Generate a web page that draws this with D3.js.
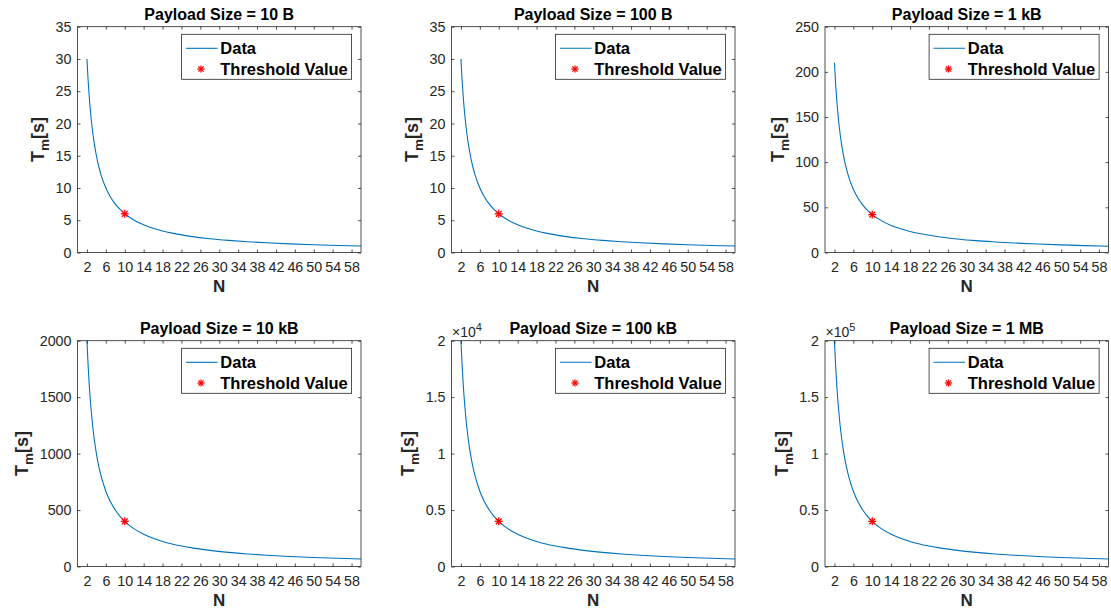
<!DOCTYPE html>
<html>
<head>
<meta charset="utf-8">
<script src="https://cdn.jsdelivr.net/npm/d3@7"></script>
<style>
  body { margin: 0; background: #fff; }
  svg { display: block; font-family: "Liberation Sans", Arial, Helvetica, sans-serif; }
</style>
</head>
<body>
<svg id="chart" width="1111" height="611"></svg>
<script>
// ── data ──
const panelTitles = [
  "Payload Size = 10 B", "Payload Size = 100 B", "Payload Size = 1 kB",
  "Payload Size = 10 kB", "Payload Size = 100 kB", "Payload Size = 1 MB"
];
const nValues = [2, 2.25, 2.5, 2.75, 3, 3.5, 4, 4.5, 5, 6, 7, 8, 9, 10, 12, 14, 16, 18, 20, 24, 28, 32, 36, 40, 45, 50, 55, 60];
const tm10B   = [30, 26.67, 24, 21.82, 20, 17.14, 15, 13.33, 12, 10, 8.57, 7.5, 6.67, 6, 5, 4.29, 3.75, 3.33, 3, 2.5, 2.14, 1.88, 1.67, 1.5, 1.33, 1.2, 1.09, 1];
const tm100B  = [30, 26.67, 24, 21.82, 20, 17.14, 15, 13.33, 12, 10, 8.57, 7.5, 6.67, 6, 5, 4.29, 3.75, 3.33, 3, 2.5, 2.14, 1.88, 1.67, 1.5, 1.33, 1.2, 1.09, 1];
const tm1kB   = [210, 186.7, 168, 152.7, 140, 120, 105, 93.3, 84, 70, 60, 52.5, 46.7, 42, 35, 30, 26.25, 23.3, 21, 17.5, 15, 13.1, 11.7, 10.5, 9.33, 8.4, 7.64, 7];
const tm10kB  = [2000, 1778, 1600, 1455, 1333, 1143, 1000, 889, 800, 667, 571, 500, 444, 400, 333, 286, 250, 222, 200, 167, 143, 125, 111, 100, 88.9, 80, 72.7, 66.7];
const tm100kB = [20000, 17780, 16000, 14550, 13330, 11430, 10000, 8890, 8000, 6670, 5710, 5000, 4440, 4000, 3330, 2860, 2500, 2220, 2000, 1670, 1430, 1250, 1110, 1000, 889, 800, 727, 667];
const tm1MB   = [200000, 177800, 160000, 145500, 133300, 114300, 100000, 88900, 80000, 66700, 57100, 50000, 44400, 40000, 33300, 28600, 25000, 22200, 20000, 16700, 14300, 12500, 11100, 10000, 8890, 8000, 7270, 6670];
const thresholdN = 10;
const thresholdTm = [6, 6, 42, 400, 4000, 40000];
const xTicks = [2, 6, 10, 14, 18, 22, 26, 30, 34, 38, 42, 46, 50, 54, 58];
const yMaxes = [35, 35, 250, 2000, 20000, 200000];
const yTickSets = [
  [0, 5, 10, 15, 20, 25, 30, 35],
  [0, 5, 10, 15, 20, 25, 30, 35],
  [0, 50, 100, 150, 200, 250],
  [0, 500, 1000, 1500, 2000],
  [0, 5000, 10000, 15000, 20000],
  [0, 50000, 100000, 150000, 200000]
];
const yExponents = [0, 0, 0, 0, 4, 5];
const legendLabels = ["Data", "Threshold Value"];

const seriesList = [tm10B, tm100B, tm1kB, tm10kB, tm100kB, tm1MB];

// ── layout ──
const svg = d3.select("#chart");
const plotW = 283.5, plotH = 225.8;
const lefts = [77.5, 451.5, 825];
const tops = [26.7, 340.7];
const axisColor = "#262626";
const lineColor = "#0072BD";

const drawAsterisk = (g, cx, cy, r) => {
  const d = r * 0.72;
  const segs = [[-r, 0, r, 0], [0, -r, 0, r], [-d, -d, d, d], [-d, d, d, -d]];
  g.append("g")
    .attr("stroke", "#ff0000").attr("stroke-width", 1.3)
    .selectAll("line").data(segs).join("line")
    .attr("x1", (s) => cx + s[0]).attr("y1", (s) => cy + s[1])
    .attr("x2", (s) => cx + s[2]).attr("y2", (s) => cy + s[3]);
};

seriesList.forEach((series, i) => {
  const px = lefts[i % 3];
  const py = tops[Math.floor(i / 3)];
  const g = svg.append("g").attr("transform", `translate(${px},${py})`);

  const x = d3.scaleLinear().domain([0, 60]).range([0, plotW]);
  const y = d3.scaleLinear().domain([0, yMaxes[i]]).range([plotH, 0]);
  const expo = yExponents[i];
  const fmt = (v) => String(+(v / Math.pow(10, expo)).toFixed(3));

  // clip
  const clipId = `clip-${i}`;
  g.append("clipPath").attr("id", clipId)
    .append("rect").attr("width", plotW).attr("height", plotH);

  // curve
  const pts = nValues.map((n, k) => [n, series[k]]);
  g.append("path")
    .datum(pts)
    .attr("clip-path", `url(#${clipId})`)
    .attr("fill", "none")
    .attr("stroke", lineColor)
    .attr("stroke-width", 1.1)
    .attr("d", d3.line().x((d) => x(d[0])).y((d) => y(d[1])).curve(d3.curveMonotoneX));

  // threshold marker
  drawAsterisk(g, x(thresholdN), y(thresholdTm[i]), 4);

  // axes (box with inward ticks)
  const styleAxis = (sel) => {
    sel.attr("font-family", null).attr("font-size", null);
    sel.selectAll(".domain").remove();
    sel.selectAll(".tick line").attr("stroke", axisColor).attr("stroke-width", 0.8);
    sel.selectAll("text").attr("fill", axisColor).attr("font-size", 14.3);
  };
  g.append("g").attr("transform", `translate(0,${plotH})`)
    .call(d3.axisBottom(x).tickValues(xTicks).tickSize(-3).tickPadding(9).tickFormat(d3.format("d")))
    .call(styleAxis);
  g.append("g")
    .call(d3.axisTop(x).tickValues(xTicks).tickSize(-3).tickFormat(""))
    .call(styleAxis);
  const yAxisG = g.append("g")
    .call(d3.axisLeft(y).tickValues(yTickSets[i]).tickSize(-3).tickPadding(6).tickFormat(fmt))
    .call(styleAxis);
  g.append("g").attr("transform", `translate(${plotW},0)`)
    .call(d3.axisRight(y).tickValues(yTickSets[i]).tickSize(-3).tickFormat(""))
    .call(styleAxis);

  g.append("rect")
    .attr("x", 0).attr("y", 0).attr("width", plotW).attr("height", plotH)
    .attr("fill", "none").attr("stroke", axisColor).attr("stroke-width", 0.8);

  // exponent label
  if (expo) {
    const t = g.append("text")
      .attr("x", 0.5).attr("y", -4)
      .attr("fill", axisColor).attr("font-size", 14);
    t.append("tspan").text("\u00d710");
    t.append("tspan").attr("dy", -6).attr("font-size", 11).text(expo);
  }

  // title
  g.append("text")
    .attr("x", plotW / 2).attr("y", -6.7)
    .attr("text-anchor", "middle")
    .attr("font-weight", "bold").attr("font-size", 16)
    .attr("fill", "#000")
    .text(panelTitles[i]);

  // x label
  g.append("text")
    .attr("x", plotW / 2).attr("y", plotH + 39.5)
    .attr("text-anchor", "middle")
    .attr("font-weight", "bold").attr("font-size", 17)
    .attr("fill", axisColor)
    .text("N");

  // y label (T_m[s]) placed left of the widest tick label
  let maxW = 0;
  yAxisG.selectAll("text").each(function () { maxW = Math.max(maxW, this.getComputedTextLength()); });
  const yl = g.append("text")
    .attr("transform", `translate(${-6 - maxW - 11.5},${plotH / 2}) rotate(-90)`)
    .attr("text-anchor", "middle")
    .attr("font-weight", "bold").attr("font-size", 18)
    .attr("fill", axisColor);
  yl.append("tspan").text("T");
  yl.append("tspan").attr("dy", 5).attr("font-size", 13.5).text("m");
  yl.append("tspan").attr("dy", -5).text("[s]");

  // legend
  const lw = 170, lh = 45;
  const lg = g.append("g").attr("transform", `translate(${plotW - 9.4 - lw},7.6)`);
  lg.append("rect")
    .attr("width", lw).attr("height", lh)
    .attr("fill", "#fff").attr("stroke", axisColor).attr("stroke-width", 0.8);
  lg.append("line")
    .attr("x1", 4.4).attr("x2", 36).attr("y1", 14).attr("y2", 14)
    .attr("stroke", lineColor).attr("stroke-width", 1.1);
  drawAsterisk(lg, 19.4, 34.7, 3.6);
  lg.selectAll("text.leg").data(legendLabels).join("text")
    .attr("class", "leg")
    .attr("x", 38.7).attr("y", (d, k) => (k === 0 ? 14 : 34.7) + 5.9)
    .attr("font-weight", "bold").attr("font-size", 16.5)
    .attr("fill", "#000")
    .text((d) => d);
});
</script>
</body>
</html>
